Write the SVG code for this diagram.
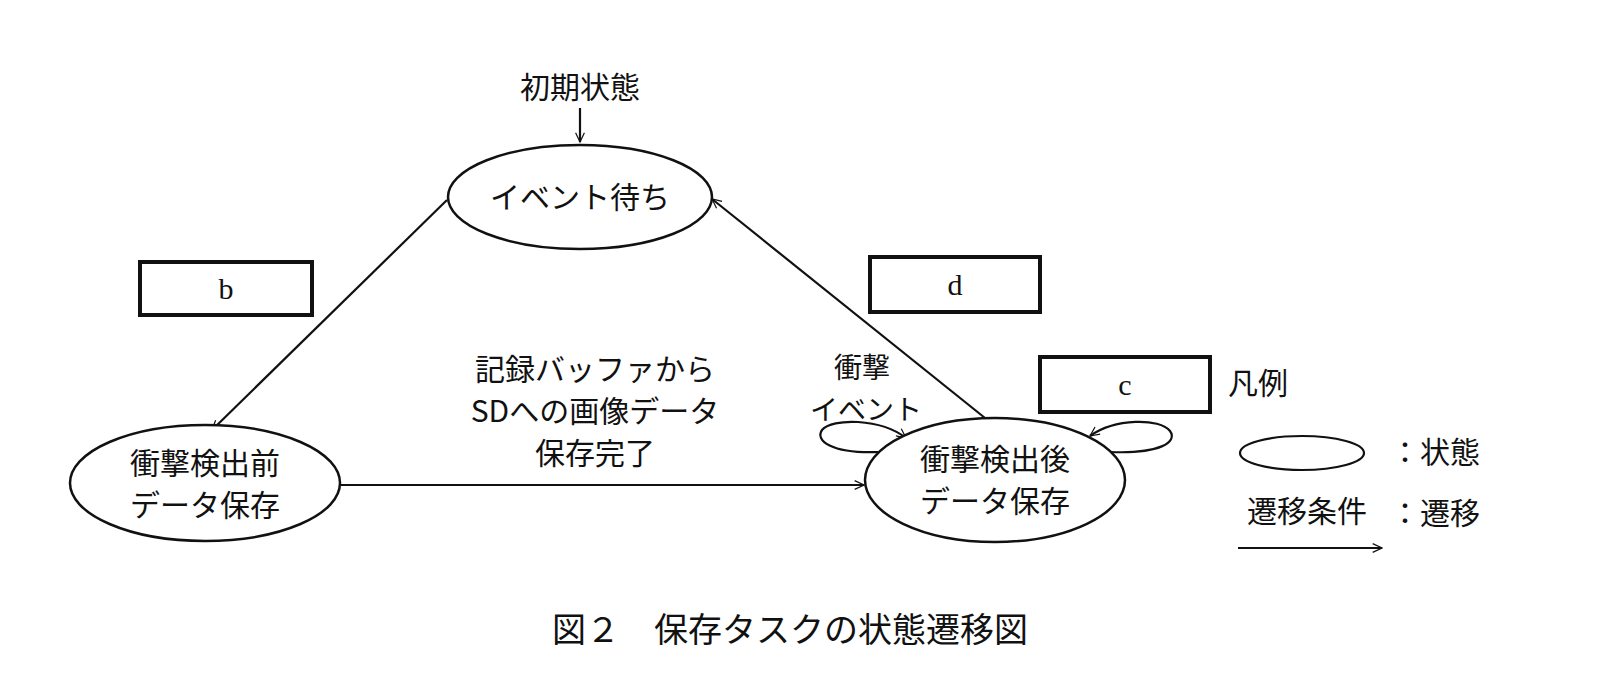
<svg xmlns="http://www.w3.org/2000/svg" width="1616" height="698" viewBox="0 0 1616 698">
<style>
text{font-family:"Noto Sans CJK JP","Liberation Serif",sans-serif;font-size:30px;fill:#111;text-anchor:middle}
.ab{font-family:"Liberation Serif",serif}
.s{font-size:28px}
.n{fill:#fff;stroke:#111;stroke-width:2.5}
.e{fill:none;stroke:#111;stroke-width:2.2;marker-end:url(#a)}
.bx{fill:#fff;stroke:#111;stroke-width:4}
</style>
<defs><marker id="a" viewBox="0 0 20 20" refX="19" refY="10" markerWidth="11" markerHeight="11" markerUnits="userSpaceOnUse" orient="auto"><path d="M2,2 L19,10 L2,18" fill="none" stroke="#111" stroke-width="2.2"/></marker></defs>
<rect width="1616" height="698" fill="#fff"/>
<g id="edges">
<path class="e" d="M580,108 L580,142"/>
<path class="e" d="M447,200 L212,430"/>
<path class="e" d="M990,422 L712,199"/>
<path class="e" d="M340,485 L864,485"/>
<path class="e" d="M880,452 C830,454 815,440 822,430 C832,418 880,418 906,438"/>
<path class="e" d="M1110,452 C1160,454 1178,442 1170,431 C1160,418 1115,418 1090,436"/>
<text x="595" y="380">記録バッファから</text>
<text x="595" y="422">SDへの画像データ</text>
<text x="595" y="464">保存完了</text>
<text class="s" x="862" y="378">衝撃</text>
<text class="s" x="866" y="420">イベント</text>
</g>
<g id="init"><text x="580" y="98">初期状態</text></g>
<g id="wait"><ellipse class="n" cx="580" cy="197" rx="132" ry="52"/><text x="580" y="208">イベント待ち</text></g>
<g id="pre"><ellipse class="n" cx="205" cy="483" rx="135" ry="58"/><text x="205" y="474">衝撃検出前</text><text x="205" y="516">データ保存</text></g>
<g id="post"><ellipse class="n" cx="995" cy="480" rx="130" ry="62"/><text x="995" y="470">衝撃検出後</text><text x="995" y="512">データ保存</text></g>
<g id="b"><rect class="bx" x="140" y="262" width="172" height="53"/><text class="ab" x="226" y="299">b</text></g>
<g id="d"><rect class="bx" x="870" y="257" width="170" height="55"/><text class="ab" x="955" y="295">d</text></g>
<g id="c"><rect class="bx" x="1040" y="357" width="170" height="55"/><text class="ab" x="1125" y="395">c</text></g>
<g id="legend">
<text x="1258" y="394">凡例</text>
<ellipse cx="1302" cy="453" rx="62" ry="17" fill="none" stroke="#111" stroke-width="2.2"/>
<text x="1435" y="463">：状態</text>
<text x="1307" y="522">遷移条件</text>
<path class="e" d="M1238,548 L1382,548"/>
<text x="1435" y="524">：遷移</text>
</g>
<g id="caption"><text x="790" y="642" style="font-size:34px">図２　保存タスクの状態遷移図</text></g>
</svg>
